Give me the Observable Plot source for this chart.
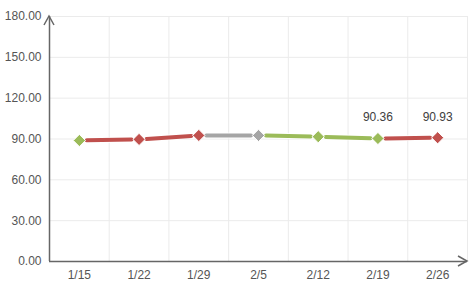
<!DOCTYPE html>
<html>
<head>
<meta charset="utf-8">
<script src="https://cdn.jsdelivr.net/npm/d3@7"></script>
<script src="https://cdn.jsdelivr.net/npm/@observablehq/plot@0.6"></script>
<style>
  html, body { margin: 0; padding: 0; background: #fff; }
  #chart { width: 475px; height: 289px; }
</style>
</head>
<body>
<div id="chart"></div>
<script>
const dates = ["1/15", "1/22", "1/29", "2/5", "2/12", "2/19", "2/26"];
const values = [88.9, 89.7, 92.6, 92.6, 91.7, 90.36, 90.93];
const trends = ["down", "up", "up", "flat", "down", "down", "up"];
const labelled = ["2/19", "2/26"];
const yTicks = [0, 30, 60, 90, 120, 150, 180];

const trendColors = {up: "#c0504d", down: "#9bbb59", flat: "#a5a5a5"};

const points = dates.map((d, i) => ({i, date: d, value: values[i], color: trendColors[trends[i]]}));
const segs = points.slice(1).map((p, k) => ({
  x1: points[k].i, y1: points[k].value, x2: p.i, y2: p.value, color: p.color
}));
const grid = dates.map((d, i) => i + 0.5);

const plot = Plot.plot({
  width: 475,
  height: 289,
  marginLeft: 49,
  marginRight: 8,
  marginTop: 16,
  marginBottom: 28,
  style: {fontFamily: "Liberation Sans, Arial, sans-serif", fontSize: "12px", color: "#555", background: "#fff"},
  x: {type: "linear", domain: [-0.5, dates.length - 0.5]},
  y: {domain: [0, 180]},
  marks: [
    Plot.ruleY(yTicks.slice(1), {stroke: "#ebebeb", strokeWidth: 1}),
    Plot.ruleX(grid, {stroke: "#ebebeb", strokeWidth: 1}),
    Plot.axisY({ticks: yTicks, tickSize: 0, tickPadding: 8, tickFormat: d => d.toFixed(2), label: null, fill: "#555", fontSize: 12}),
    Plot.axisX({ticks: dates.map((d, i) => i), tickSize: 0, tickPadding: 9, tickFormat: i => dates[i], label: null, fill: "#555", fontSize: 12}),
    Plot.ruleX([-0.5], {stroke: "#666", strokeWidth: 1.5}),
    Plot.ruleY([0], {stroke: "#666", strokeWidth: 1.5}),
    Plot.arrow(segs, {x1: "x1", y1: "y1", x2: "x2", y2: "y2", stroke: "#fff", strokeWidth: 6, headLength: 0, inset: 6, strokeOpacity: 0.8}),
    Plot.arrow(segs, {x1: "x1", y1: "y1", x2: "x2", y2: "y2", stroke: "color", strokeWidth: 4, headLength: 0, inset: 7.5}),
    Plot.dot(points, {x: "i", y: "value", symbol: "diamond2", r: 5.5, fill: "color", stroke: "#fff", strokeWidth: 1}),
    Plot.text(points.filter(p => labelled.includes(p.date)), {x: "i", y: "value", text: p => p.value.toFixed(2), dy: -21, fill: "#404040", fontSize: 12})
  ]
});

document.getElementById("chart").appendChild(plot);

// axis arrow heads, positioned through the plot's own scales
const sx = plot.scale("x"), sy = plot.scale("y");
const x0 = sx.apply(sx.domain[0]), x1 = sx.apply(sx.domain[1]);
const y0 = sy.apply(sy.domain[0]), y1 = sy.apply(sy.domain[1]);
const svg = d3.select(plot);
svg.append("path")
  .attr("d", `M${x0 - 5},${y1 + 9}L${x0},${y1}L${x0 + 5},${y1 + 9}`)
  .attr("fill", "none").attr("stroke", "#666").attr("stroke-width", 1.5);
svg.append("path")
  .attr("d", `M${x1 - 9},${y0 - 5}L${x1},${y0}L${x1 - 9},${y0 + 5}`)
  .attr("fill", "none").attr("stroke", "#666").attr("stroke-width", 1.5);
</script>
</body>
</html>
